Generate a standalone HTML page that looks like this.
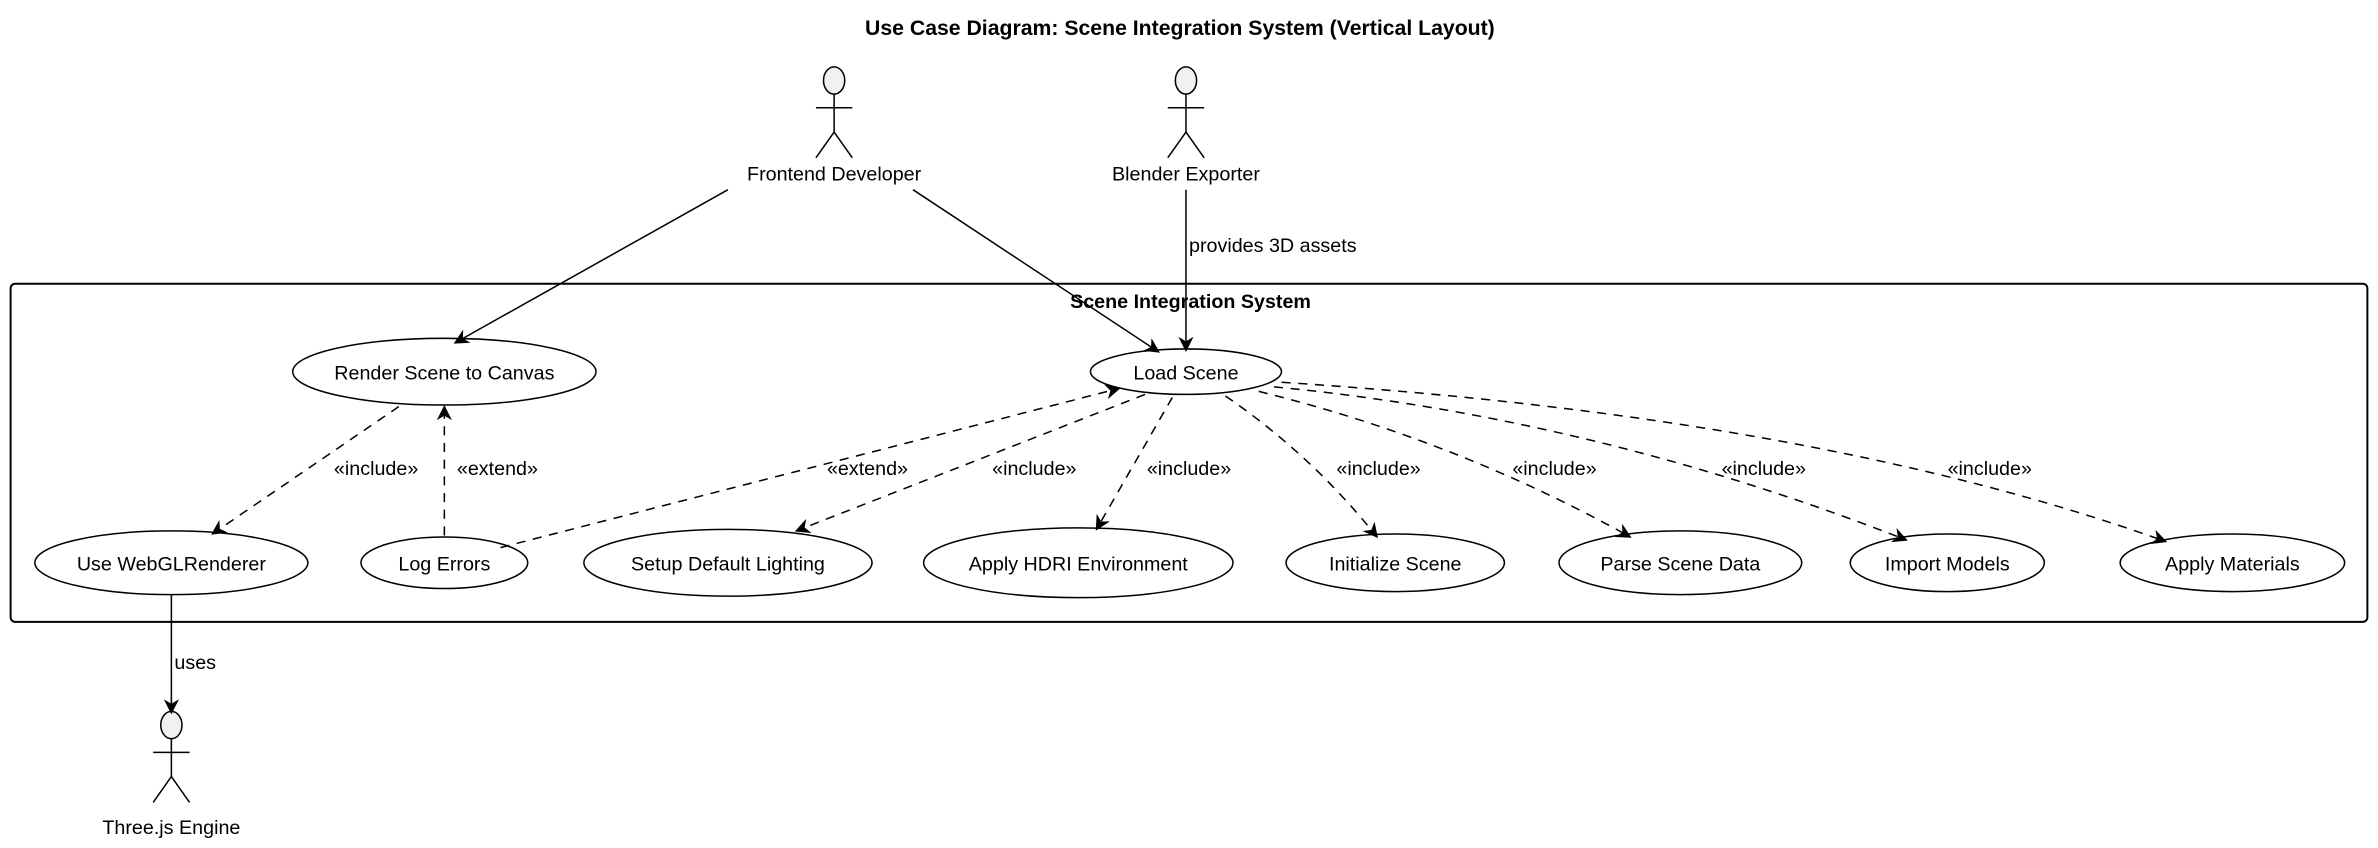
<!DOCTYPE html>
<html><head><meta charset="utf-8"><style>html,body{margin:0;padding:0;background:#fff}svg{display:block}text{font-family:"Liberation Sans",sans-serif;font-size:13px;fill:#000}</style></head>
<body>
<svg width="2378" height="848" viewBox="0 0 1568 559" xmlns="http://www.w3.org/2000/svg">
<defs><marker id="a" viewBox="0 0 10 10" refX="9" refY="5" markerWidth="10" markerHeight="10" markerUnits="userSpaceOnUse" orient="auto"><path d="M0,0 L10,5 L0,10 L3,5 z" fill="#000"/></marker></defs>
<text x="778" y="23" text-anchor="middle" font-weight="bold" style="font-size:14px">Use Case Diagram: Scene Integration System (Vertical Layout)</text>
<g stroke="#000" stroke-width="1" fill="none">
<g id="act"><ellipse cx="550" cy="53" rx="7" ry="9" fill="#f1f1f1"/><line x1="550" y1="62" x2="550" y2="87"/><line x1="538" y1="71" x2="562" y2="71"/><path d="M538,104 L550,87 L562,104"/></g>
<use href="#act" x="232"/>
<use href="#act" x="-437" y="425"/>
<rect x="7" y="187" width="1554" height="223" rx="3" stroke-width="1.3"/>
<ellipse cx="293" cy="245" rx="100" ry="22"/>
<ellipse cx="782" cy="245" rx="63" ry="15"/>
<ellipse cx="113" cy="371" rx="90" ry="21"/>
<ellipse cx="293" cy="371" rx="55" ry="17"/>
<ellipse cx="480" cy="371" rx="95" ry="22"/>
<ellipse cx="711" cy="371" rx="102" ry="23"/>
<ellipse cx="920" cy="371" rx="72" ry="19"/>
<ellipse cx="1108" cy="371" rx="80" ry="21"/>
<ellipse cx="1284" cy="371" rx="64" ry="19"/>
<ellipse cx="1472" cy="371" rx="74" ry="19"/>
<g marker-end="url(#a)">
<line x1="480" y1="125" x2="300" y2="226"/>
<line x1="602" y1="125" x2="764" y2="232"/>
<line x1="782" y1="125" x2="782" y2="231"/>
<line x1="113" y1="392" x2="113" y2="470"/>
</g>
<g marker-end="url(#a)" stroke-dasharray="6,5">
<line x1="263" y1="268" x2="140" y2="352"/>
<line x1="293" y1="353" x2="293" y2="268"/>
<line x1="330" y1="361" x2="738" y2="256"/>
<line x1="755" y1="260" x2="525" y2="350"/>
<line x1="773" y1="262" x2="723" y2="349"/>
<path d="M808,261 Q865,300 908,354"/>
<path d="M830,258 Q960,290 1075,354"/>
<path d="M840,255 Q1050,275 1257,356"/>
<path d="M845,252 Q1200,275 1428,357"/>
</g>
</g>
<text x="550" y="119" text-anchor="middle">Frontend Developer</text>
<text x="782" y="119" text-anchor="middle">Blender Exporter</text>
<text x="113" y="550" text-anchor="middle">Three.js Engine</text>
<text x="784" y="166">provides 3D assets</text>
<text x="785" y="203" text-anchor="middle" font-weight="bold">Scene Integration System</text>
<text x="293" y="250" text-anchor="middle">Render Scene to Canvas</text>
<text x="782" y="250" text-anchor="middle">Load Scene</text>
<text x="113" y="376" text-anchor="middle">Use WebGLRenderer</text>
<text x="293" y="376" text-anchor="middle">Log Errors</text>
<text x="480" y="376" text-anchor="middle">Setup Default Lighting</text>
<text x="711" y="376" text-anchor="middle">Apply HDRI Environment</text>
<text x="920" y="376" text-anchor="middle">Initialize Scene</text>
<text x="1108" y="376" text-anchor="middle">Parse Scene Data</text>
<text x="1284" y="376" text-anchor="middle">Import Models</text>
<text x="1472" y="376" text-anchor="middle">Apply Materials</text>
<text x="115" y="441">uses</text>
<g style="font-size:12px">
<text x="248" y="313" text-anchor="middle">«include»</text>
<text x="328" y="313" text-anchor="middle">«extend»</text>
<text x="572" y="313" text-anchor="middle">«extend»</text>
<text x="682" y="313" text-anchor="middle">«include»</text>
<text x="784" y="313" text-anchor="middle">«include»</text>
<text x="909" y="313" text-anchor="middle">«include»</text>
<text x="1025" y="313" text-anchor="middle">«include»</text>
<text x="1163" y="313" text-anchor="middle">«include»</text>
<text x="1312" y="313" text-anchor="middle">«include»</text>
</g>
</svg>
</body></html>
